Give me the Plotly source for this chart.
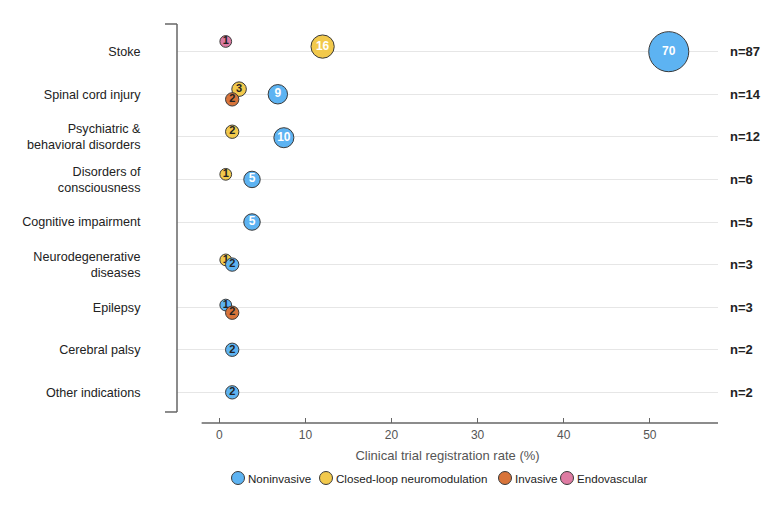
import plotly.graph_objects as go
import math

categories = ["Stoke", "Spinal cord injury", "Psychiatric &<br>behavioral disorders",
              "Disorders of<br>consciousness", "Cognitive impairment",
              "Neurodegenerative<br>diseases", "Epilepsy", "Cerebral palsy", "Other indications"]
n_labels = ["n=87", "n=14", "n=12", "n=6", "n=5", "n=3", "n=3", "n=2", "n=2"]

noninvasive_cats = categories
noninvasive_counts = [70, 9, 10, 5, 5, 2, 1, 2, 2]
noninvasive_rates = [52.2, 6.8, 7.5, 3.8, 3.8, 1.5, 0.75, 1.5, 1.5]

closed_cats = [categories[0], categories[1], categories[2], categories[3], categories[5]]
closed_counts = [16, 3, 2, 1, 1]
closed_rates = [12.0, 2.3, 1.5, 0.75, 0.75]

invasive_cats = [categories[1], categories[6]]
invasive_counts = [2, 2]
invasive_rates = [1.5, 1.5]

endo_cats = [categories[0]]
endo_counts = [1]
endo_rates = [0.75]

legend_order = ["Noninvasive", "Closed-loop neuromodulation", "Invasive", "Endovascular"]

# vertical dodge (presentation only, in row units)
dodge = {
    "Noninvasive": [0, 0, 0.02, 0, 0, 0, -0.05, 0, 0],
    "Closed-loop neuromodulation": [-0.12, -0.12, -0.12, -0.12, -0.11],
    "Invasive": [0.12, 0.13],
    "Endovascular": [-0.24],
}

colors = {
    "Noninvasive": "#5DB3F2",
    "Closed-loop neuromodulation": "#F2C94C",
    "Invasive": "#D8743A",
    "Endovascular": "#DE7BA2",
}

FONT = "Arial, Liberation Sans, sans-serif"
row_index = {c: i for i, c in enumerate(categories)}

series = [
    ("Closed-loop neuromodulation", closed_cats, closed_counts, closed_rates),
    ("Noninvasive", noninvasive_cats, noninvasive_counts, noninvasive_rates),
    ("Invasive", invasive_cats, invasive_counts, invasive_rates),
    ("Endovascular", endo_cats, endo_counts, endo_rates),
]

fig = go.Figure()
for name, cats, counts, rates in series:
    ys = [row_index[c] + d for c, d in zip(cats, dodge[name])]
    sizes = [7.9 + 3.84 * math.sqrt(c) for c in counts]
    tcol = ["white" if c >= 5 else "#222222" for c in counts]
    tsize = [12 if c >= 5 else 11 for c in counts]
    fig.add_trace(go.Scatter(
        x=rates, y=ys, mode="markers+text", name=name, showlegend=False,
        text=[str(c) for c in counts], textposition="middle center",
        textfont=dict(family=FONT, size=tsize, color=tcol, weight="bold"),
        marker=dict(size=sizes, color=colors[name], opacity=1,
                    line=dict(color="#3a3a3a", width=1)),
        hoverinfo="skip",
    ))

for i, lab in enumerate(n_labels):
    fig.add_annotation(x=1, xref="paper", y=i, yref="y", text="<b>" + lab + "</b>",
                       showarrow=False, xanchor="left", xshift=10,
                       font=dict(family=FONT, size=13, color="#222222"))

# bracket-style y axis
bc = "#666666"
fig.add_shape(type="line", xref="paper", yref="paper", x0=0, x1=0, y0=0.0276, y1=1,
              line=dict(color=bc, width=1.5))
fig.add_shape(type="line", xref="paper", yref="paper", x0=-0.0222, x1=0, y0=1, y1=1,
              line=dict(color=bc, width=1.5))
fig.add_shape(type="line", xref="paper", yref="paper", x0=-0.0222, x1=0, y0=0.0276, y1=0.0276,
              line=dict(color=bc, width=1.5))
# x axis line
fig.add_shape(type="line", xref="x", yref="paper", x0=-2.05, x1=57.92, y0=0, y1=0,
              line=dict(color=bc, width=1.5))

# legend row (drawn below the axis title)
PL, PW, PB, PH = 177, 541, 423, 399
legend_px = [238, 326, 505, 567]
legend_y = (PB - 478) / PH
for name, px in zip(legend_order, legend_px):
    fig.add_shape(type="circle", xref="paper", yref="paper",
                  xsizemode="pixel", ysizemode="pixel",
                  xanchor=(px - PL) / PW, yanchor=legend_y,
                  x0=-6.5, x1=6.5, y0=-6.5, y1=6.5,
                  fillcolor=colors[name], line=dict(color="#3a3a3a", width=1))
    fig.add_annotation(x=(px + 8 - PL) / PW, xref="paper", y=legend_y, yref="paper",
                       text=name, showarrow=False, xanchor="left", yanchor="middle",
                       font=dict(family=FONT, size=11.6, color="#222222"))

fig.update_layout(
    template="none",
    width=781, height=505,
    margin=dict(l=177, r=63, t=24, b=82, autoexpand=False),
    paper_bgcolor="white", plot_bgcolor="white",
    font=dict(family=FONT, size=13, color="#222222"),
    showlegend=False,
    xaxis=dict(range=[-4.91, 57.92], tickvals=[0, 10, 20, 30, 40, 50],
               ticks="inside", ticklen=5, tickwidth=1, tickcolor=bc,
               showgrid=False, zeroline=False, showline=False,
               ticklabelstandoff=3,
               tickfont=dict(family=FONT, size=12, color="#555555"),
               title=dict(text="Clinical trial registration rate (%)",
                          font=dict(family=FONT, size=13, color="#555555"), standoff=9)),
    yaxis=dict(range=[8.72, -0.65], tickvals=list(range(len(categories))), ticktext=categories,
               ticks="outside", ticklen=33, tickcolor="rgba(0,0,0,0)",
               showgrid=True, gridcolor="#e6e6e6", gridwidth=1,
               zeroline=False, showline=False,
               tickfont=dict(family=FONT, size=12.6, color="#222222")),
)

fig.write_html("out.html")
